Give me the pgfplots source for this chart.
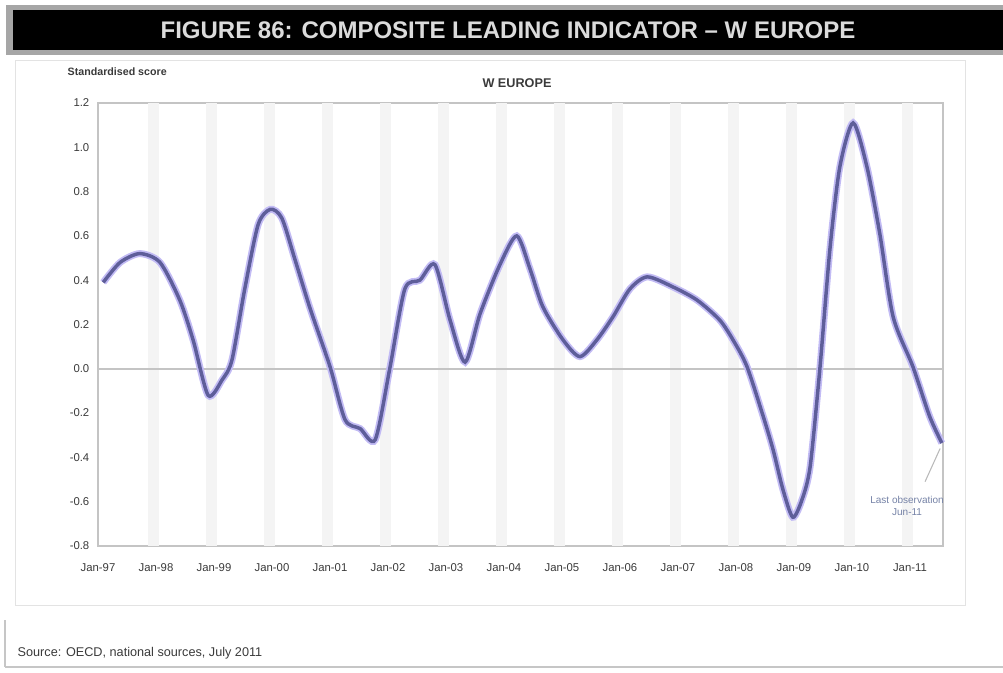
\documentclass[border=0pt]{standalone}
\usepackage{pgfplots}
\pgfplotsset{compat=1.18}
\usepackage{pgfplotstable}
\usepackage{fontspec}
\setmainfont{Liberation Sans}

\definecolor{cliline}{HTML}{5E5E9A}
\definecolor{cliglow}{HTML}{C2BBF4}
\definecolor{frame}{HTML}{C4C4C4}
\definecolor{band}{HTML}{F4F4F4}
\definecolor{note}{HTML}{7582A6}
\definecolor{ink}{HTML}{3A3A3A}

% Composite leading indicator, W Europe (x: years since Jan-97)
\pgfplotstableread{
x      y
0.09   0.39
0.38   0.48
0.72   0.52
1.07   0.48
1.41   0.31
1.64   0.13
1.90  -0.12
2.14  -0.05
2.31   0.04
2.53   0.36
2.76   0.65
2.97   0.72
3.17   0.68
3.40   0.49
3.66   0.27
4.00   0.01
4.26  -0.23
4.52  -0.27
4.78  -0.32
5.03   0.00
5.29   0.36
5.55   0.40
5.81   0.47
6.07   0.22
6.33   0.03
6.59   0.25
6.93   0.47
7.22   0.60
7.45   0.45
7.67   0.28
8.02   0.13
8.31   0.055
8.60   0.13
8.88   0.235
9.17   0.36
9.47   0.415
9.91   0.37
10.33  0.31
10.72  0.22
10.95  0.13
11.19  0.01
11.47 -0.215
11.64 -0.365
11.81 -0.545
11.98 -0.67
12.14 -0.59
12.28 -0.44
12.45  0.01
12.62  0.54
12.79  0.91
13.02  1.11
13.26  0.91
13.48  0.61
13.71  0.235
14.05  0.01
14.34 -0.215
14.55 -0.335
}\clidata

\begin{document}
\begin{tikzpicture}
\useasboundingbox (0,0) rectangle (752.25pt,504.75pt);

% title bar
\fill[gray!70] (4.5pt,463.5pt) rectangle (752.25pt,501pt);
\fill[black] (9.75pt,467.25pt) rectangle (752.25pt,497.25pt);
\node[text=gray!28, font=\fontsize{18}{20}\selectfont\bfseries] at (381pt,482.25pt)
  {FIGURE 86: COMPOSITE LEADING INDICATOR -- W EUROPE};

% chart area frame
\draw[gray!22, line width=0.6pt] (11.25pt,51pt) rectangle (723.75pt,459.75pt);

% outer frame pieces
\draw[gray!45, line width=1.2pt] (3.75pt,4.5pt) -- (752.25pt,4.5pt);
\draw[gray!45, line width=1.2pt] (3.75pt,4.5pt) -- (3.75pt,40pt);

% captions
\node[anchor=west, text=ink, font=\fontsize{8}{9}\selectfont\bfseries] at (47.25pt,450.75pt) {Standardised score};
\node[text=ink, font=\fontsize{9.5}{10}\selectfont\bfseries] at (387.75pt,442.5pt) {W EUROPE};
\node[anchor=west, text=ink, font=\fontsize{9.5}{10}\selectfont] at (9.75pt,15pt) {Source: OECD, national sources, July 2011};

\begin{axis}[
  at={(73.5pt,95.25pt)}, anchor=south west,
  width=633.75pt, height=332.25pt, scale only axis,
  xmin=0, xmax=14.57, ymin=-0.8, ymax=1.2,
  xtick={0,...,14},
  xticklabels={Jan-97,Jan-98,Jan-99,Jan-00,Jan-01,Jan-02,Jan-03,Jan-04,Jan-05,Jan-06,Jan-07,Jan-08,Jan-09,Jan-10,Jan-11},
  ytick={-0.8,-0.6,...,1.21},
  major tick length=0pt,
  axis line style={frame, line width=1.3pt},
  tick label style={text=ink, font=\fontsize{8.5}{9}\selectfont},
  yticklabel style={/pgf/number format/fixed, /pgf/number format/fixed zerofill,
    /pgf/number format/precision=1, xshift=-3pt},
  xticklabel style={yshift=-10pt},
  /pgf/number format/assume math mode=true,
  clip=false,
]
% year bands
\pgfplotsinvokeforeach{1,...,14}{
  \fill[band] (axis cs:#1-0.13,-0.8) rectangle (axis cs:#1+0.05,1.2);
}
% zero line
\draw[frame, line width=1.2pt] (axis cs:0,0) -- (axis cs:14.57,0);

\addplot[cliglow, line width=5.2pt, smooth, tension=0.45] table[x=x,y=y] {\clidata};
\addplot[cliline, line width=2.6pt, smooth, tension=0.45] table[x=x,y=y] {\clidata};

% last observation note
\draw[gray!55, line width=0.8pt] (axis cs:14.26,-0.51) -- (axis cs:14.52,-0.36);
\node[text=note, font=\fontsize{7.5}{8}\selectfont, align=center] at (axis cs:13.95,-0.62)
  {Last observation\\[1pt] Jun-11};
\end{axis}
\end{tikzpicture}
\end{document}
